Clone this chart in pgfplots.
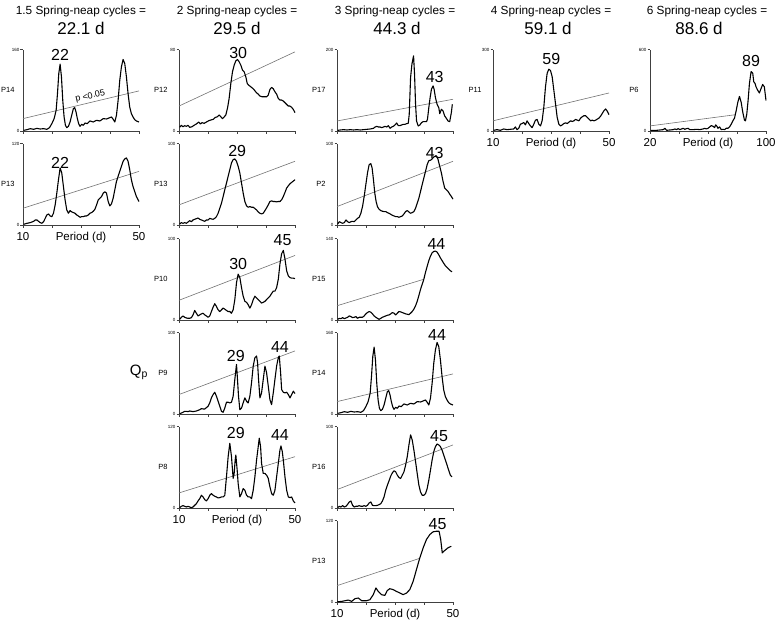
\documentclass[border=0pt]{standalone}
\usepackage{fontspec}
\setmainfont{Liberation Sans}
\usepackage{pgfplots}
\usepackage{pgfplotstable}
\pgfplotsset{compat=1.18}

\newcommand{\tA}{\fontsize{11.8}{13}\selectfont}
\newcommand{\tB}{\fontsize{17}{19}\selectfont}
\newcommand{\pk}{\fontsize{16}{18}\selectfont}
\newcommand{\pl}{\fontsize{7.5}{8}\selectfont}
\newcommand{\tl}{\fontsize{11.5}{12}\selectfont}
\newcommand{\yt}{\fontsize{4.5}{5}\selectfont}

\pgfplotsset{
  panel/.style={
    scale only axis, width=116pt, height=81.5pt, anchor=south west,
    axis lines=left, axis line style={-, black!75, line width=0.5pt},
    xmin=10, xmax=50, ymin=0,
    xtick={10,20,30,40,50}, xticklabels={},
    tick align=outside, major tick length=2.5pt,
    tick style={black!75, line width=0.5pt},
    yticklabel style={font=\yt, inner sep=1pt},
    clip=false,
  },
  curve/.style={black, line width=1.1pt, line join=round},
  sig/.style={black!55, line width=0.6pt},
}

% col1 P14 (also col3 P14)
\pgfplotstableread{
p v
10.23 1.3
11.37 2.6
12.51 4.6
13.66 3.3
14.8 5.2
15.94 3.9
17.09 4.6
18.23 3.3
19.14 6.6
19.94 14.4
20.74 24.3
21.43 40.7
21.89 73.5
22.34 112.8
22.8 131.2
23.26 106.3
23.71 60.4
24.17 27.6
24.63 11.2
25.09 6.6
25.66 9.2
26.23 17.7
26.8 30.8
27.37 44
27.83 45.9
28.29 37.4
28.74 24.3
29.2 14.4
29.66 9.2
30.23 13.1
30.8 11.2
31.37 15.7
32.17 14.4
33.09 19.7
34.23 17.7
35.37 21
36.51 19.7
37.66 24.3
38.8 23.6
39.94 26.2
40.51 27.6
41.09 23
41.66 17.7
42.23 30.8
42.8 60.4
43.37 99.7
43.94 126
44.51 140.4
45.09 132.5
45.66 106.3
46.23 73.5
46.8 47.2
47.37 34.1
47.94 27.6
48.51 22.3
49.09 19.7
50 17.7
}\dA

% col1 P13
\pgfplotstableread{
p v
10.23 1.0
11.37 2.5
12.51 3.5
13.66 5.4
14.23 7.4
14.8 7.4
15.37 5.4
15.94 3.5
16.51 2.5
17.09 4.9
18.23 14.8
18.8 16.3
19.37 13.3
19.94 12.3
20.51 17.3
21.09 29.6
21.66 46.9
22.23 66.7
22.8 83.9
23.37 76.5
23.94 56.8
24.51 37
25.09 22.2
25.66 17.3
26.23 21.2
26.8 19.3
27.37 18.3
27.94 17.3
28.51 14.8
29.09 13.3
29.66 11.4
30.23 12.3
30.8 12.3
31.37 13.3
31.94 13.3
32.51 14.8
33.09 17.3
33.66 18.3
34.23 20.2
34.8 23.2
35.37 29.6
35.94 37
36.51 39.5
37.09 42
37.66 46.9
38.23 48.9
38.8 46.9
39.37 34.6
39.94 28.1
40.51 31.1
41.09 39.5
41.66 51.8
42.23 64.2
42.8 71.6
43.37 79
43.94 86.4
44.51 93.8
45.09 97.3
45.66 98.8
46.23 93.8
46.8 81.5
47.37 66.7
47.94 56.8
48.51 49.4
49.09 42
50 34.6
}\dB

% col2 P12
\pgfplotstableread{
p v
10.23 3.6
10.81 5.6
11.38 4.2
11.96 5.2
12.54 4.6
13.11 5.6
13.69 3.6
14.5 4.2
15.19 5.6
15.99 6.9
16.8 8.8
17.38 6.9
17.95 8.2
18.65 7.5
19.45 8.8
20.26 10.1
20.95 10.8
21.76 11.4
22.56 13.4
23.26 14
23.83 15.7
24.41 14
24.99 12.1
25.45 13.4
26.14 15.7
26.71 22.2
27.29 32
27.87 46.7
28.44 58.1
29.02 64.6
29.6 68.9
30.17 70.2
30.75 67.9
31.33 64.6
31.9 59.7
32.48 58.1
33.05 53.2
33.52 46.7
33.98 45.1
34.44 44.1
35.01 42.8
35.59 41.5
36.17 39.5
36.74 37.5
37.32 36.2
37.9 34.3
38.7 33.6
39.39 33.6
40.2 33.6
40.78 35.3
41.35 40.8
41.93 42.8
42.51 41.5
43.08 38.5
43.66 36.2
44.24 32
44.81 30.4
45.39 30.4
45.97 29.4
46.54 27.8
47.12 26.1
47.69 24.5
48.27 24.5
48.85 23.2
49.42 21.2
50 18
}\dC

% col2 P13
\pgfplotstableread{
p v
10.23 1.2
10.81 2.9
11.38 2.1
11.96 2.9
12.54 2.1
13.11 3.7
13.69 5.3
14.27 4.1
14.84 6.2
15.42 7
15.99 7.8
16.57 8.6
17.15 7
17.72 6.2
18.3 5.3
18.88 4.5
19.45 6.2
20.03 6.2
20.61 8.2
21.18 7.4
21.76 7
22.33 8.2
22.91 10.3
23.49 14.4
24.06 20.6
24.64 26.7
25.22 35
25.79 43.2
26.37 51.4
26.95 59.7
27.52 67.9
28.1 76.1
28.67 80.2
29.25 81.1
29.83 78.2
30.4 72
30.98 63.8
31.56 51.4
32.13 39.1
32.71 28.8
33.29 23.5
33.86 21.8
34.44 22.6
35.01 21.8
35.59 21.8
36.17 20.2
36.74 18.5
37.32 16
37.9 14.4
38.47 13.6
39.05 14.4
39.63 17.7
40.2 21
40.78 24.7
41.35 28.8
41.93 29.6
42.51 28.8
43.08 28.8
43.66 28.4
44.24 28.8
44.81 28.8
45.39 30.9
45.97 35
46.54 39.9
47.12 45.3
47.69 48.1
48.27 50.6
48.85 52.3
49.42 53.9
50 55.6
}\dD

% col2 P10
\pgfplotstableread{
p v
10.23 0.8
10.81 3.3
11.38 5
11.96 3.3
12.54 2.5
13.11 2.1
13.69 2.1
14.27 2.9
14.84 6.3
15.42 11.7
15.99 8.3
16.57 5
17.15 6.3
17.72 7.5
18.3 8.3
18.88 6.3
19.45 5
20.03 3.3
20.61 5
21.18 10.4
21.76 15.8
22.33 20
22.91 16.7
23.49 12.5
24.06 10.4
24.64 12.5
25.22 14.6
25.79 13.3
26.37 11.7
26.95 10.4
27.52 10.4
28.1 8.3
28.67 12.5
29.25 25
29.83 45.8
30.4 56.3
30.98 52.1
31.56 39.6
32.13 29.2
32.71 22.9
33.29 21.7
33.86 18.8
34.44 14.6
35.01 18.8
35.59 25
36.17 29.2
36.74 27.1
37.32 25
37.9 22.9
38.47 20.8
39.05 21.7
39.63 22.9
40.2 25
40.78 27.1
41.35 29.2
41.93 32.5
42.51 35.4
43.08 35.4
43.66 39.6
44.24 50
44.81 68.8
45.39 81.3
45.97 85.4
46.54 75
47.12 60.4
47.69 54.2
48.27 52.1
48.85 51.3
49.42 51.3
50 50.8
}\dE

% col2 P9
\pgfplotstableread{
p v
10.23 0.4
10.81 1.2
11.38 2.1
11.96 3.3
12.54 3.3
13.11 2.9
13.69 3.7
14.27 3.3
14.84 2.9
15.42 3.3
15.99 3.7
16.57 4.5
17.15 5.3
17.72 6.6
18.3 6.2
18.88 6.2
19.45 7.8
20.03 9.5
20.61 13.6
21.18 19.8
21.76 23.9
22.33 26.7
22.91 21.8
23.49 15.6
24.06 9.5
24.64 3.3
25.22 2.1
25.79 7.4
26.37 14.4
26.95 14.4
27.52 13.6
28.1 14.4
28.67 21.8
29.25 42.4
29.83 60.9
30.17 42.4
30.52 21.8
30.98 5.3
31.56 7.4
32.13 13.6
32.71 19.8
33.29 15.6
33.86 13.6
34.44 21.8
35.01 38.3
35.59 58.8
36.17 69.1
36.74 71.2
37.09 63
37.43 42.4
37.9 19.8
38.47 25.9
39.05 42.4
39.63 58.8
40.2 50.6
40.78 34.2
41.35 17.7
41.93 11.5
42.51 25.9
43.08 42.4
43.66 58.8
44.24 69.1
44.58 71.2
45.04 50.6
45.39 30
45.97 26.7
46.54 25.9
47.12 26.7
47.69 23.9
48.27 19.8
48.85 23.9
49.42 28
50 25.1
}\dF

% col2 P8
\pgfplotstableread{
p v
10.23 0.5
10.81 2.5
11.38 3.5
11.96 2.5
12.54 1.5
13.11 2.5
13.69 1.5
14.27 0.5
14.84 1.5
15.42 4
15.99 6.4
16.57 10.4
17.15 13.8
17.72 18.8
18.3 16.3
18.88 12.3
19.45 10.4
20.03 13.8
20.61 18.8
21.18 21.2
21.76 18.8
22.33 17.3
22.91 16.3
23.49 14.8
24.06 15.3
24.64 16.3
25.22 16.3
25.79 18.8
26.37 45.9
26.95 75.6
27.52 95.3
28.1 75.6
28.67 43.5
29.02 50.9
29.37 70.6
29.6 78
30.06 55.8
30.4 36
30.98 16.3
31.56 21.2
32.13 28.6
32.71 26.2
33.29 18.8
33.86 16.3
34.44 16.3
35.01 13.8
35.59 26.2
36.17 45.9
36.74 70.6
37.32 90.4
37.67 102.7
38.13 90.4
38.47 65.7
39.05 50.9
39.63 50.9
40.2 48.4
40.78 43.5
41.35 31.1
41.93 21.2
42.51 18.8
43.08 26.2
43.66 45.9
44.24 65.7
44.81 85.4
45.16 91.4
45.62 83
45.97 70.6
46.54 45.9
47.12 26.2
47.69 16.3
48.27 15.3
48.85 16.3
49.42 10.4
50 7.4
}\dG

% col3 P17
\pgfplotstableread{
p v
10.23 1.6
11.14 2.5
12.29 3.3
13.43 2.5
14.57 3.3
15.71 2.5
16.86 3.3
18 2.5
19.14 3.3
20.29 4.1
21.43 4.9
22.57 6.6
23.14 9.8
23.71 11.5
24.29 9.8
24.86 9.8
25.43 8.2
26 9.8
26.57 11.5
27.14 9.8
27.71 13.1
28.29 6.6
28.86 9.8
29.43 11.5
30 14.8
30.57 19.7
31.14 13.1
31.71 13.1
32.29 14.8
32.86 16.4
33.43 16.4
34 18
34.57 18.9
34.91 41
35.37 131.1
35.83 163.9
36.4 184.4
36.74 139.3
37.09 65.6
37.43 24.6
38 12.3
38.57 14.8
39.14 20.5
39.71 23
40.29 23
40.86 23
41.2 28.7
41.66 57.4
42.11 82
42.57 102.5
43.14 110.7
43.49 102.5
43.94 82
44.51 65.6
45.09 57.4
45.43 42.6
46 53.3
46.57 49.2
47.14 36.9
47.71 31.1
48.29 24.6
48.86 23
49.43 45.1
49.77 65.6
}\dH

% col3 P2
\pgfplotstableread{
p v
10.23 1.2
10.8 4.1
11.37 2.9
11.94 2.1
12.51 2.9
13.09 6.2
13.66 4.1
14.23 2.9
14.8 4.1
15.37 4.5
15.94 4.1
16.51 6.2
17.09 8.2
17.66 9.5
18.23 14.4
18.8 22.6
19.37 35
19.94 49.4
20.51 63.8
21.09 74.1
21.66 75.3
22.11 70
22.57 55.6
23.03 39.1
23.49 28.8
23.94 22.6
24.51 19.3
25.09 17.7
25.66 16.9
26.23 16.5
26.8 16.5
27.37 15.2
27.94 14.4
28.51 13.2
29.09 11.9
29.66 11.1
30.23 10.3
30.8 10.3
31.37 9.5
31.94 10.3
32.51 11.1
33.09 13.6
33.66 16.5
34.23 17.7
34.8 16
35.37 14.4
35.94 15.2
36.51 16.5
37.09 20.6
37.66 26.7
38.23 32.9
38.8 41.2
39.37 49.4
39.94 57.6
40.51 65.8
41.09 74.1
41.66 79
42.23 79.4
42.8 81.1
43.37 83.5
43.94 84.4
44.51 83.5
44.86 80.2
45.43 72
46 63.8
46.57 53.5
47.14 45.3
47.71 43.2
48.29 41.2
48.86 37.9
49.43 35
50 31.7
}\dI

% col3 P15
\pgfplotstableread{
p v
10.23 1.2
10.8 2.9
11.37 2.3
11.94 4.1
12.51 2.3
13.09 3.5
13.66 4.7
14.23 7
14.8 5.8
15.37 4.1
15.94 4.7
16.51 5.8
17.09 2.9
17.66 4.7
18.23 4.7
18.8 4.7
19.37 7
19.94 10.5
20.51 12.8
21.09 14.6
21.66 13.4
22.23 10.5
22.8 7
23.37 4.7
23.94 2.9
24.51 1.2
25.09 2.9
25.66 4.7
26.23 5.8
26.8 7
27.37 8.2
27.94 8.7
28.51 10.5
29.09 12.8
29.66 11.7
30.23 8.7
30.8 11.7
31.37 14.6
31.94 14
32.51 12.8
33.09 11.7
33.66 10.5
34.23 9.9
34.8 9.3
35.37 11.7
35.94 14.6
36.51 18.7
37.09 24.5
37.66 32.1
38.23 42
38.8 52.5
39.37 61.2
39.94 70
40.51 81.7
41.09 92.2
41.66 102.1
42.23 109.7
42.8 115.5
43.37 117.8
43.94 118.4
44.51 116.7
45.09 112
45.66 106.7
46.23 102.1
46.8 97.4
47.37 93.3
47.94 90.4
48.51 87.5
49.09 84.6
49.66 82.8
}\dJ

% col3 P16
\pgfplotstableread{
p v
10.23 0.4
10.8 2.1
11.37 1.2
11.94 2.9
12.51 1.2
13.09 2.1
13.66 4.5
14.23 7.4
14.8 8.6
15.37 3.3
15.94 1.2
16.51 2.1
17.09 2.1
17.66 2.9
18.23 2.1
18.8 2.1
19.37 2.9
19.94 2.1
20.51 3.3
21.09 6.2
21.66 7.4
22.23 3.3
22.8 2.9
23.37 2.9
23.94 3.3
24.51 4.1
25.09 5.3
25.66 8.6
26.23 13.6
26.8 21.8
27.37 28
27.94 33.3
28.51 39.1
29.09 43.2
29.66 45.7
30.23 44.4
30.8 40.3
31.37 37.4
31.94 36.2
32.51 40.3
33.09 44.4
33.66 52.7
34.23 63
34.8 77.4
35.37 89.7
35.94 83.5
36.51 71.2
37.09 56.8
37.66 42.4
38.23 28
38.8 19.8
39.37 15.6
39.94 15.6
40.51 17.7
41.09 23.9
41.66 34.2
42.23 46.5
42.8 58.8
43.37 69.1
43.94 75.3
44.51 78.6
45.09 77.4
45.66 75.3
46.23 71.2
46.8 65
47.37 58.8
47.94 52.7
48.51 46.5
49.09 40.3
49.66 38.3
}\dK

% col3 P13
\pgfplotstableread{
p v
10.1 0.3
11.6 0.9
12.75 1.9
13.9 2.9
15.05 0.9
16.2 4.9
17.35 5.9
18.5 1.9
20.2 1.9
21.35 3.4
22.5 10.8
23.43 20.7
24.22 15.6
25.37 10.8
26.5 9.7
27.3 16.7
28.2 19.6
29.4 18.2
30.5 15.6
31.7 13.3
32.8 10.8
34 13.3
35.1 18.2
36.25 30.4
37.4 47.7
38.55 64.9
39.7 79.7
40.85 92
42 99.3
43.1 103.3
44.3 104.2
45.2 104.2
45.76 92
46.3 72.3
47.1 75.7
48.25 79.7
49.4 82.1
}\dL

% col4 P11
\pgfplotstableread{
p v
10.22 2.5
11.37 5
12.53 2.5
13.68 7.5
14.83 5
15.99 6.3
17.14 7.5
17.72 15
18.29 5
18.87 10
19.45 25
20.02 27.5
20.6 31.3
21.18 22.5
21.75 37.5
22.33 27.5
22.91 18.8
23.48 12.5
24.06 25
24.64 40
25.21 42.5
25.79 25
26.37 18.8
26.94 37.5
27.52 87.5
28.1 162.5
28.67 212.5
29.25 227.5
29.83 222.5
30.4 200
30.98 150
31.56 100
32.13 50
32.71 25
33.29 18.8
33.86 22.5
34.44 27.5
35.02 30
35.59 27.5
36.17 32.5
36.75 37.5
37.32 35
37.9 37.5
38.48 42.5
39.05 40
39.63 37.5
40.21 47.5
40.78 52.5
41.36 56.3
41.94 56.3
42.51 50
43.09 43.8
43.66 37.5
44.24 40
44.81 37.5
45.39 40
45.97 43.8
46.54 47.5
47.12 55
47.7 65
48.27 75
48.85 81.3
49.42 72.5
50 60
}\dM

% col5 P6
\pgfplotstableread{
p v
20.46 5
22.29 5
24.57 5
26.86 7.5
29.14 10
30.29 20
31.43 5
33.72 7.5
36 10
37.15 15
38.29 10
39.43 17.5
40.57 10
41.72 15
42.86 20
44 12.5
45.15 17.5
46.29 20
47.43 10
49.72 10
52 12.5
54.29 10
56.58 15
57.72 20
58.86 15
60 20
61.15 30
62.29 40
63.43 35
64.58 25
65.26 45
66.18 35
66.86 20
68 30
69.15 10
70.29 12.5
71.44 10
72.58 20
73.72 20
74.86 30
76 50
77.15 75
78.29 95
79.44 150
80.58 212.5
81.72 255
82.86 212.5
84 137.5
85.15 80
85.83 75
86.75 125
87.66 225
88.58 350
89.72 437.5
90.87 425
91.55 362.5
92.46 350
93.15 325
94.29 300
95.44 280
96.58 312.5
97.72 342.5
98.86 325
100 225
}\dN

\begin{document}
\begin{tikzpicture}
\useasboundingbox (0,0) rectangle (777pt,-622pt);

% column titles
\node[font=\tA, anchor=base] at (81pt,-14.5pt) {1.5 Spring-neap cycles =};
\node[font=\tB, anchor=base] at (81pt,-34.5pt) {22.1 d};
\node[font=\tA, anchor=base] at (237pt,-14.5pt) {2 Spring-neap cycles =};
\node[font=\tB, anchor=base] at (237pt,-34.5pt) {29.5 d};
\node[font=\tA, anchor=base] at (395pt,-14.5pt) {3 Spring-neap cycles =};
\node[font=\tB, anchor=base] at (397pt,-34.5pt) {44.3 d};
\node[font=\tA, anchor=base] at (551pt,-14.5pt) {4 Spring-neap cycles =};
\node[font=\tB, anchor=base] at (548pt,-34.5pt) {59.1 d};
\node[font=\tA, anchor=base] at (707pt,-14.5pt) {6 Spring-neap cycles =};
\node[font=\tB, anchor=base] at (699pt,-34.5pt) {88.6 d};

\node[font=\fontsize{15}{16}\selectfont] at (139pt,-372pt) {Q\textsubscript{p}};

% ===== column 1 =====
\begin{axis}[panel, at={(23pt,-131pt)}, ymax=160, ytick={0,160}, yticklabels={0,160}]
\addplot[sig] coordinates {(10,24.3) (50,78.7)};
\addplot[curve] table {\dA};
\node[font=\pk] at (axis cs:22.8,149) {22};
\node[font=\pl, anchor=east, xshift=-5pt] at (rel axis cs:0,0.5) {P14};
\node[font=\fontsize{9}{10}\selectfont, rotate=13.3, anchor=south, inner sep=1pt] at (axis cs:33.6,58) {p <0.05};
\end{axis}

\begin{axis}[panel, at={(23pt,-225pt)}, ymax=120, ytick={0,120}, yticklabels={0,120}]
\addplot[sig] coordinates {(10,24.7) (50,79)};
\addplot[curve] table {\dB};
\node[font=\pk] at (axis cs:22.8,91.4) {22};
\node[font=\pl, anchor=east, xshift=-5pt] at (rel axis cs:0,0.5) {P13};
\node[font=\tl, yshift=-11.8pt] at (rel axis cs:0,0) {10};
\node[font=\tl, yshift=-11.8pt] at (rel axis cs:1,0) {50};
\node[font=\tl, yshift=-12.5pt] at (rel axis cs:0.5,0) {Period (d)};
\end{axis}

% ===== column 2 =====
\begin{axis}[panel, at={(179pt,-131pt)}, ymax=80, ytick={0,80}, yticklabels={0,80}]
\addplot[sig] coordinates {(10,24.5) (50,77.7)};
\addplot[curve] table {\dC};
\node[font=\pk] at (axis cs:30.4,77) {30};
\node[font=\pl, anchor=east, xshift=-8pt] at (rel axis cs:0,0.5) {P12};
\end{axis}

\begin{axis}[panel, at={(179pt,-225pt)}, ymax=100, ytick={0,100}, yticklabels={0,100}]
\addplot[sig] coordinates {(10,24.7) (50,78.2)};
\addplot[curve] table {\dD};
\node[font=\pk] at (axis cs:30.06,90.5) {29};
\node[font=\pl, anchor=east, xshift=-8pt] at (rel axis cs:0,0.5) {P13};
\end{axis}

\begin{axis}[panel, at={(179pt,-320pt)}, ymax=100, ytick={0,100}, yticklabels={0,100}]
\addplot[sig] coordinates {(10,24.2) (50,79.2)};
\addplot[curve] table {\dE};
\node[font=\pk] at (axis cs:30.4,68.8) {30};
\node[font=\pk] at (axis cs:45.7,97.9) {45};
\node[font=\pl, anchor=east, xshift=-8pt] at (rel axis cs:0,0.5) {P10};
\end{axis}

\begin{axis}[panel, at={(179pt,-414pt)}, ymax=100, ytick={0,100}, yticklabels={0,100}]
\addplot[sig] coordinates {(10,23.9) (50,77.4)};
\addplot[curve] table {\dF};
\node[font=\pk] at (axis cs:29.6,71.2) {29};
\node[font=\pk] at (axis cs:44.8,82.7) {44};
\node[font=\pl, anchor=east, xshift=-8pt] at (rel axis cs:0,0.5) {P9};
\end{axis}

\begin{axis}[panel, at={(179pt,-508pt)}, ymax=120, ytick={0,120}, yticklabels={0,120}]
\addplot[sig] coordinates {(10,22.2) (50,75.6)};
\addplot[curve] table {\dG};
\node[font=\pk] at (axis cs:29.6,111) {29};
\node[font=\pk] at (axis cs:44.8,107.6) {44};
\node[font=\pl, anchor=east, xshift=-8pt] at (rel axis cs:0,0.5) {P8};
\node[font=\tl, yshift=-11.8pt] at (rel axis cs:0,0) {10};
\node[font=\tl, yshift=-11.8pt] at (rel axis cs:1,0) {50};
\node[font=\tl, yshift=-12.5pt] at (rel axis cs:0.5,0) {Period (d)};
\end{axis}

% ===== column 3 =====
\begin{axis}[panel, at={(337pt,-131pt)}, ymax=200, ytick={0,200}, yticklabels={0,200}]
\addplot[sig] coordinates {(10,24.6) (50,77.9)};
\addplot[curve] table {\dH};
\node[font=\pk] at (axis cs:43.7,132.8) {43};
\node[font=\pl, anchor=east, xshift=-8pt] at (rel axis cs:0,0.5) {P17};
\end{axis}

\begin{axis}[panel, at={(337pt,-225pt)}, ymax=100, ytick={0,100}, yticklabels={0,100}]
\addplot[sig] coordinates {(10,22.6) (50,78.2)};
\addplot[curve] table {\dI};
\node[font=\pk] at (axis cs:43.7,88.5) {43};
\node[font=\pl, anchor=east, xshift=-8pt] at (rel axis cs:0,0.5) {P2};
\end{axis}

\begin{axis}[panel, at={(337pt,-320pt)}, ymax=140, ytick={0,140}, yticklabels={0,140}]
\addplot[sig] coordinates {(10,24.5) (39.94,70)};
\addplot[curve] table {\dJ};
\node[font=\pk] at (axis cs:44.3,131.2) {44};
\node[font=\pl, anchor=east, xshift=-8pt] at (rel axis cs:0,0.5) {P15};
\end{axis}

\begin{axis}[panel, at={(337pt,-414pt)}, ymax=160, ytick={0,160}, yticklabels={0,160}]
\addplot[sig] coordinates {(10,24.3) (50,78.7)};
\addplot[curve] table {\dA};
\node[font=\pk] at (axis cs:44.5,156) {44};
\node[font=\pl, anchor=east, xshift=-8pt] at (rel axis cs:0,0.5) {P14};
\end{axis}

\begin{axis}[panel, at={(337pt,-508pt)}, ymax=100, ytick={0,100}, yticklabels={0,100}]
\addplot[sig] coordinates {(10,22.6) (50,77.4)};
\addplot[curve] table {\dK};
\node[font=\pk] at (axis cs:45.2,88.5) {45};
\node[font=\pl, anchor=east, xshift=-8pt] at (rel axis cs:0,0.5) {P16};
\end{axis}

\begin{axis}[panel, at={(337pt,-602pt)}, ymax=120, ytick={0,120}, yticklabels={0,120}]
\addplot[sig] coordinates {(10,24.1) (38.5,64.3)};
\addplot[curve] table {\dL};
\node[font=\pk] at (axis cs:44.7,115) {45};
\node[font=\pl, anchor=east, xshift=-8pt] at (rel axis cs:0,0.5) {P13};
\node[font=\tl, yshift=-11.8pt] at (rel axis cs:0,0) {10};
\node[font=\tl, yshift=-11.8pt] at (rel axis cs:1,0) {50};
\node[font=\tl, yshift=-12.5pt] at (rel axis cs:0.5,0) {Period (d)};
\end{axis}

% ===== column 4 =====
\begin{axis}[panel, at={(493pt,-131pt)}, ymax=300, ytick={0,300}, yticklabels={0,300}]
\addplot[sig] coordinates {(10,37.5) (50,140)};
\addplot[curve] table {\dM};
\node[font=\pk] at (axis cs:30.1,265) {59};
\node[font=\pl, anchor=east, xshift=-8pt] at (rel axis cs:0,0.5) {P11};
\node[font=\tl, yshift=-11.8pt] at (rel axis cs:0,0) {10};
\node[font=\tl, yshift=-11.8pt] at (rel axis cs:1,0) {50};
\node[font=\tl, yshift=-12.5pt] at (rel axis cs:0.5,0) {Period (d)};
\end{axis}

% ===== column 5 =====
\begin{axis}[panel, at={(650pt,-131pt)}, xmin=20, xmax=100, xtick={20,40,60,80,100},
  ymax=600, ytick={0,600}, yticklabels={0,600}]
\addplot[sig] coordinates {(20,37.5) (78.8,119.8)};
\addplot[curve] table {\dN};
\node[font=\pk] at (axis cs:89.7,512) {89};
\node[font=\pl, anchor=east, xshift=-8pt] at (rel axis cs:0,0.5) {P6};
\node[font=\tl, yshift=-11.8pt] at (rel axis cs:0,0) {20};
\node[font=\tl, yshift=-11.8pt] at (rel axis cs:1,0) {100};
\node[font=\tl, yshift=-12.5pt] at (rel axis cs:0.5,0) {Period (d)};
\end{axis}
\end{tikzpicture}
\end{document}
